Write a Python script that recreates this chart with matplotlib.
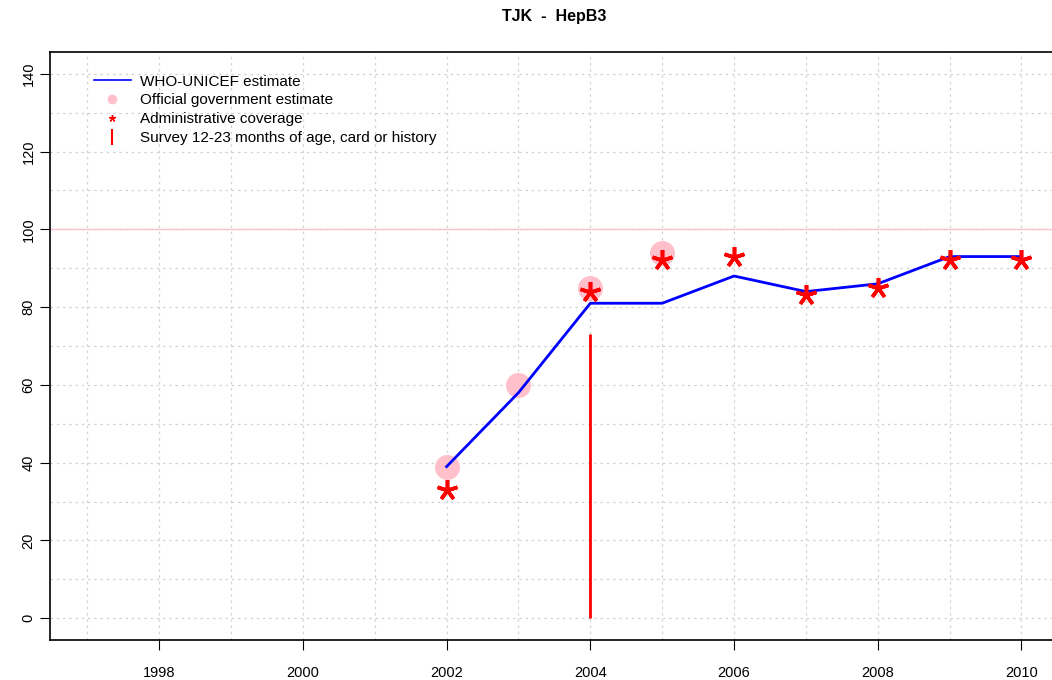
import numpy as np
import matplotlib.pyplot as plt
from matplotlib.lines import Line2D

plt.rcParams['font.family'] = ['Liberation Sans', 'DejaVu Sans']

# WHO-UNICEF estimate
anos = [2002, 2003, 2004, 2005, 2006, 2007, 2008, 2009, 2010]
wuenic = [39, 58, 81, 81, 88, 84, 86, 93, 93]

# Estimativa oficial do governo
anos_oficial = [2002, 2003, 2004, 2005]
oficial = [39, 60, 85, 94]

# Cobertura administrativa
anos_admin = [2002, 2004, 2005, 2006, 2007, 2008, 2009, 2010]
admin = [33, 84, 92, 93, 83, 85, 92, 92]

# Inquérito 12-23 meses
anos_inq = [2004]
inquerito = [73]

fig = plt.figure(figsize=(10.52, 6.8), dpi=100)
ax = fig.add_axes([0.0475, 0.0588, 0.959, 0.8647])

# grade pontilhada
for a in range(1997, 2011):
    ax.axvline(a, color='#d3d3d3', linestyle=(0, (2, 3)), linewidth=0.9, zorder=0)
for v in range(0, 141, 10):
    ax.axhline(v, color='#d3d3d3', linestyle=(0, (2, 3)), linewidth=0.9, zorder=0)

ax.axhline(100, color='pink', linewidth=1, zorder=1)

ax.plot(anos_oficial, oficial, 'o', color='pink', markersize=17, zorder=2)
ax.plot(anos, wuenic, color='blue', linewidth=2, zorder=3)
ax.vlines(anos_inq, 0, inquerito, color='red', linewidth=2, zorder=3)
ax.plot(anos_admin, admin, linestyle='none', marker=(5, 2, 0), color='red',
        markersize=15, markeredgewidth=2.6, zorder=4)

ax.set_xlim(1996.48, 2010.52)
ax.set_ylim(-5.6, 145.6)
ax.set_xticks(range(1998, 2011, 2))
ax.set_yticks(range(0, 141, 20))
ax.tick_params(axis='y', labelrotation=90, length=7, labelsize=10.5)
ax.tick_params(axis='x', length=7, labelsize=10.5, pad=12)
for lab in ax.get_yticklabels():
    lab.set_verticalalignment('center')
for s in ax.spines.values():
    s.set_linewidth(1.2)

ax.set_title('TJK  -  HepB3', fontsize=11.5, fontweight='bold', pad=22)

handles = [
    Line2D([], [], color='blue', linewidth=1.2),
    Line2D([], [], marker='o', linestyle='none', color='pink', markersize=6),
    Line2D([], [], marker=(5, 2, 0), linestyle='none', color='red', markersize=5, markeredgewidth=1),
    Line2D([], [], marker='|', linestyle='none', color='red', markersize=12, markeredgewidth=1.5),
]
labels = ['WHO-UNICEF estimate', 'Official government estimate',
          'Administrative coverage', 'Survey 12-23 months of age, card or history']
ax.legend(handles, labels, loc='upper left', bbox_to_anchor=(0.03, 0.985), frameon=False,
          fontsize=11, handlelength=2.4, labelspacing=0.32, handletextpad=0.6)

plt.savefig('out.png')
